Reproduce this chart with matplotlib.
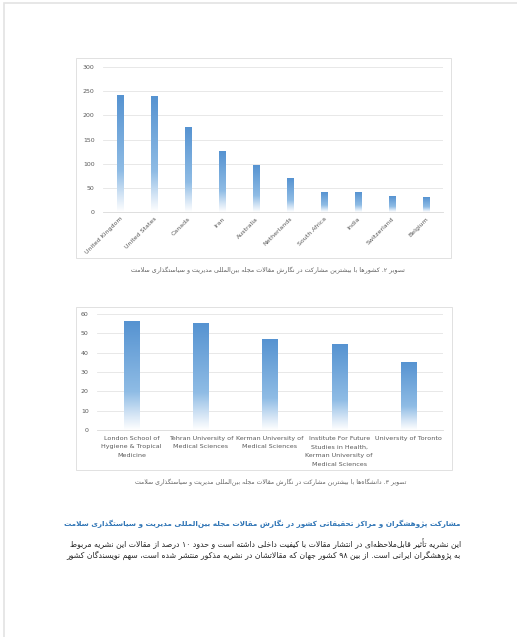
import re
import numpy as np
import matplotlib
matplotlib.use('Agg')
import matplotlib.pyplot as plt
from matplotlib.patches import Rectangle
from matplotlib.colors import LinearSegmentedColormap

# Figure 2 data: countries
countries = ['United Kingdom', 'United States', 'Canada', 'Iran', 'Australia',
             'Netherlands', 'South Africa', 'India', 'Switzerland', 'Belgium']
country_counts = [242, 240, 174, 126, 97, 70, 41, 41, 32, 30]
country_ticks = [0, 50, 100, 150, 200, 250, 300]

# Figure 3 data: universities
universities = ['London School of\nHygiene & Tropical\nMedicine',
                'Tehran University of\nMedical Sciences',
                'Kerman University of\nMedical Sciences',
                'Institute For Future\nStudies in Health,\nKerman University of\nMedical Sciences',
                'University of Toronto']
university_counts = [56, 55, 47, 44, 35]
university_ticks = [0, 10, 20, 30, 40, 50, 60]

caption_1 = 'تصویر ۲. کشورها با بیشترین مشارکت در نگارش مقالات مجله بین‌المللی مدیریت و سیاستگذاری سلامت'
caption_2 = 'تصویر ۳. دانشگاه‌ها با بیشترین مشارکت در نگارش مقالات مجله بین‌المللی مدیریت و سیاستگذاری سلامت'
heading = 'مشارکت پژوهشگران و مراکز تحقیقاتی کشور در نگارش مقالات مجله بین‌المللی مدیریت و سیاستگذاری سلامت'
body_lines = [
    'این نشریه تأثیر قابل‌ملاحظه‌ای در انتشار مقالات با کیفیت داخلی داشته است و حدود ۱۰ درصد از مقالات این نشریه مربوط',
    'به پژوهشگران ایرانی است. از بین ۹۸ کشور جهان که مقالاتشان در نشریه مذکور منتشر شده است، سهم نویسندگان کشور',
]

# --- minimal Persian shaping (matplotlib has no complex text layout) ---
# (letter, first presentation form, number of forms: iso, final, initial, medial)
_FORM_TABLE = [('ء', 0xFE80, 1), ('آ', 0xFE81, 2), ('أ', 0xFE83, 2), ('ؤ', 0xFE85, 2),
               ('إ', 0xFE87, 2), ('ئ', 0xFE89, 4), ('ا', 0xFE8D, 2), ('ب', 0xFE8F, 4),
               ('ة', 0xFE93, 2), ('ت', 0xFE95, 4), ('ث', 0xFE99, 4), ('ج', 0xFE9D, 4),
               ('ح', 0xFEA1, 4), ('خ', 0xFEA5, 4), ('د', 0xFEA9, 2), ('ذ', 0xFEAB, 2),
               ('ر', 0xFEAD, 2), ('ز', 0xFEAF, 2), ('س', 0xFEB1, 4), ('ش', 0xFEB5, 4),
               ('ص', 0xFEB9, 4), ('ض', 0xFEBD, 4), ('ط', 0xFEC1, 4), ('ظ', 0xFEC5, 4),
               ('ع', 0xFEC9, 4), ('غ', 0xFECD, 4), ('ف', 0xFED1, 4), ('ق', 0xFED5, 4),
               ('ك', 0xFED9, 4), ('ل', 0xFEDD, 4), ('م', 0xFEE1, 4), ('ن', 0xFEE5, 4),
               ('ه', 0xFEE9, 4), ('و', 0xFEED, 2), ('ى', 0xFEEF, 2), ('ي', 0xFEF1, 4),
               ('پ', 0xFB56, 4), ('چ', 0xFB7A, 4), ('ژ', 0xFB8A, 2), ('ک', 0xFB8E, 4),
               ('گ', 0xFB92, 4), ('ی', 0xFBFC, 4), ('ۀ', 0xFBA4, 2)]
FORMS = {c: (start, n) for c, start, n in _FORM_TABLE}
LAM_ALEF = {'ا': 0xFEFB, 'آ': 0xFEF5, 'أ': 0xFEF7, 'إ': 0xFEF9}


def fa(text):
    chars = list(text)
    out = []
    i = 0
    while i < len(chars):
        c = chars[i]
        if c not in FORMS:
            if c != '\u200c':
                out.append(c)
            i += 1
            continue
        prev = chars[i - 1] if i > 0 else ''
        joins_prev = prev in FORMS and FORMS[prev][1] == 4 and FORMS[c][1] >= 2
        if c == 'ل' and i + 1 < len(chars) and chars[i + 1] in LAM_ALEF:
            out.append(chr(LAM_ALEF[chars[i + 1]] + (1 if joins_prev else 0)))
            i += 2
            continue
        nxt = chars[i + 1] if i + 1 < len(chars) else ''
        joins_next = FORMS[c][1] == 4 and nxt in FORMS and FORMS[nxt][1] >= 2
        start, n = FORMS[c]
        if joins_prev and joins_next:
            k = 3
        elif joins_prev:
            k = 1
        elif joins_next:
            k = 2
        else:
            k = 0
        out.append(chr(start + min(k, n - 1)))
        i += 1
    visual = ''.join(out)[::-1]
    return re.sub(r'[0-9۰-۹]+', lambda m: m.group(0)[::-1], visual)


W, H = 517, 637
fig = plt.figure(figsize=(W / 100, H / 100), dpi=100)
fig.patch.set_facecolor('white')


def px_axes(x0, y0, x1, y1):
    return fig.add_axes([x0 / W, 1 - y1 / H, (x1 - x0) / W, (y1 - y0) / H])


def frame(x0, y0, x1, y1, color='#dcdcdc', lw=0.6):
    fig.add_artist(Rectangle((x0 / W, 1 - y1 / H), (x1 - x0) / W, (y1 - y0) / H,
                             transform=fig.transFigure, facecolor='none',
                             edgecolor=color, lw=lw))


fade = LinearSegmentedColormap.from_list(
    'fade', [(0, '#ffffff'), (0.13, '#d8e7f6'), (0.35, '#8fbce5'), (1, '#5693d1')])


def gradient_bars(ax, values, width):
    x = np.arange(len(values))
    bars = ax.bar(x, values, width, color='none', edgecolor='none', zorder=3)
    grad = np.linspace(0, 1, 256).reshape(-1, 1)
    for b in bars:
        ax.imshow(grad, extent=[b.get_x(), b.get_x() + b.get_width(), 0, b.get_height()],
                  origin='lower', aspect='auto', cmap=fade, zorder=3)
    ax.set_aspect('auto')


def style_axes(ax, ticks):
    ax.set_ylim(ticks[0], ticks[-1])
    ax.set_yticks(ticks)
    ax.grid(axis='y', color='#e4e4e4', lw=0.6, zorder=0)
    for s in ['top', 'right', 'left']:
        ax.spines[s].set_visible(False)
    ax.spines['bottom'].set_color('#d9d9d9')
    ax.spines['bottom'].set_linewidth(0.6)
    ax.tick_params(length=0, colors='#595959', labelsize=4.5, pad=6)


# page edge shadow
frame(4, 3, W + 5, H + 5, color='#e3e3e3', lw=1.2)

# ---- chart 1: countries ----
frame(76, 58, 451, 258)
ax1 = px_axes(103, 67, 443, 212)
gradient_bars(ax1, country_counts, 0.2)
ax1.set_xlim(-0.5, len(countries) - 0.5)
style_axes(ax1, country_ticks)
ax1.set_xticks(np.arange(len(countries)))
ax1.set_xticklabels(countries, rotation=45, ha='right', rotation_mode='anchor')
ax1.tick_params(axis='x', pad=3)
fig.text(268 / W, 1 - 270 / H, fa(caption_1), ha='center', va='center',
         fontsize=4.6, color='#606060', family='DejaVu Sans')

# ---- chart 2: universities ----
frame(76, 307, 452, 470)
ax2 = px_axes(97, 314, 443, 430)
gradient_bars(ax2, university_counts, 0.22)
ax2.set_xlim(-0.5, len(universities) - 0.5)
style_axes(ax2, university_ticks)
ax2.set_xticks(np.arange(len(universities)))
ax2.set_xticklabels(universities, multialignment='center', linespacing=1.95)
ax2.tick_params(axis='x', labelsize=4.6, pad=4)
fig.text(271 / W, 1 - 482 / H, fa(caption_2), ha='center', va='center',
         fontsize=4.45, color='#606060', family='DejaVu Sans')

# ---- heading and body text ----
fig.text(461 / W, 1 - 524 / H, fa(heading), ha='right', va='center',
         fontsize=5.2, color='#2e74b5', weight='bold', family='DejaVu Sans')
for k, line in enumerate(body_lines):
    fig.text(461 / W, 1 - (544 + 11.5 * k) / H, fa(line), ha='right', va='center',
             fontsize=5.6, color='#262626', family='DejaVu Sans')

fig.savefig('out.png', dpi=100, facecolor='white')
